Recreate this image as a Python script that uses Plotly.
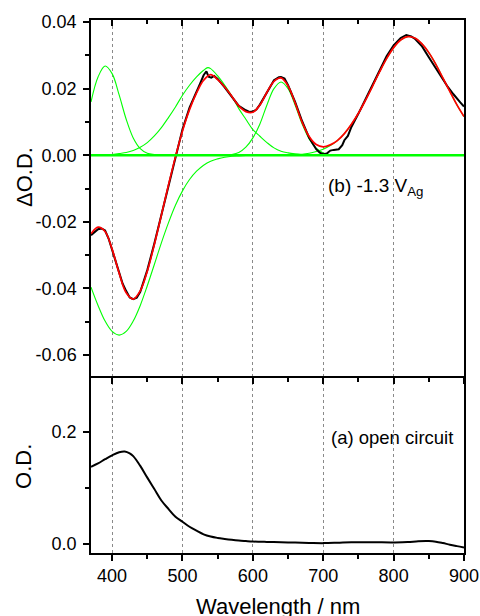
import plotly.graph_objects as go

# ---------------- data ----------------
wl = list(range(370, 901, 10))

fit_red = [-0.0236, -0.0216, -0.0229, -0.0282, -0.0354, -0.0413, -0.0432, -0.0407,
           -0.0348, -0.0268, -0.0180, -0.0090, -0.0005, 0.0073, 0.0137, 0.0187,
           0.0225, 0.0242, 0.0227, 0.0205, 0.0177, 0.0148, 0.0131, 0.0129,
           0.0151, 0.0189, 0.0222, 0.0232, 0.0208, 0.0157, 0.0099, 0.0056,
           0.0032, 0.0025, 0.0031, 0.0044, 0.0065, 0.0093, 0.0126, 0.0165,
           0.0207, 0.0250, 0.0290, 0.0323, 0.0346, 0.0356, 0.0352, 0.0335,
           0.0308, 0.0273, 0.0232, 0.0191, 0.0151, 0.0116]

meas_wl = [370, 375, 380, 385, 390, 395, 400, 405, 410, 415, 420, 425, 430, 435, 440,
           445, 450, 460, 470, 480, 490, 500, 510, 520, 525, 530, 534, 537, 541, 545,
           550, 560, 570, 580, 590, 595, 600, 605, 610, 620, 630, 637, 640, 645, 650,
           660, 670, 680, 685, 690, 695, 700, 705, 710, 715, 722, 727, 730, 735, 740,
           750, 760, 770, 780, 790, 800, 810, 818, 825, 830, 840, 850, 860, 870, 877,
           885, 890, 895, 900]
meas_dod = [-0.0240, -0.0232, -0.0222, -0.0220, -0.0226, -0.0250, -0.0283, -0.0318,
            -0.0350, -0.0386, -0.0408, -0.0427, -0.0432, -0.0428, -0.0410, -0.0380,
            -0.0345, -0.0265, -0.0178, -0.0088, -0.0003, 0.0078, 0.0143, 0.0195,
            0.0215, 0.0240, 0.0252, 0.0236, 0.0233, 0.0238, 0.0229, 0.0204, 0.0176,
            0.0148, 0.0135, 0.0130, 0.0131, 0.0137, 0.0152, 0.0190, 0.0225, 0.0234,
            0.0235, 0.0230, 0.0210, 0.0160, 0.0102, 0.0052, 0.0034, 0.0018, 0.0008,
            0.0003, 0.0005, 0.0014, 0.0016, 0.0018, 0.0030, 0.0045, 0.0058, 0.0085,
            0.0125, 0.0168, 0.0212, 0.0256, 0.0297, 0.0330, 0.0352, 0.0361, 0.0357,
            0.0350, 0.0328, 0.0294, 0.0262, 0.0226, 0.0205, 0.0183, 0.0172, 0.0158,
            0.0146]

# Gaussian components (green)
g1_wl = [370, 380, 390, 400, 410, 420, 430, 440, 450, 460, 470]
g1 = [0.0160, 0.0235, 0.0268, 0.0245, 0.0181, 0.0108, 0.0052, 0.0020, 0.0006, 0.0002, 0.0]

g2_wl = [400, 410, 420, 430, 440, 450, 460, 470, 480, 490, 500, 510, 520, 530, 536,
         540, 550, 560, 570, 580, 590, 600, 610, 620, 630, 640, 650, 660, 670, 680, 690]
g2 = [0.0002, 0.0005, 0.0008, 0.0014, 0.0024, 0.0038, 0.0058, 0.0083, 0.0113, 0.0145,
      0.0180, 0.0210, 0.0235, 0.0255, 0.0263, 0.0260, 0.0238, 0.0210, 0.0178, 0.0140,
      0.0108, 0.0077, 0.0057, 0.0038, 0.0022, 0.0012, 0.0007, 0.0004, 0.0002, 0.0001, 0.0]

g3_wl = [560, 570, 580, 590, 600, 610, 620, 630, 640, 650, 660, 670, 680, 690, 700, 710, 720]
g3 = [0.0, 0.0002, 0.0008, 0.0024, 0.0052, 0.0094, 0.0151, 0.0200, 0.0220, 0.0200,
      0.0151, 0.0094, 0.0049, 0.0021, 0.0007, 0.0002, 0.0]

g4_wl = [370, 380, 390, 400, 410, 420, 430, 440, 450, 460, 470, 480, 490, 500, 510,
         520, 530, 540, 550, 560, 570, 580, 590, 600]
g4 = [-0.0396, -0.0451, -0.0498, -0.0529, -0.0540, -0.0529, -0.0498, -0.0451, -0.0392,
      -0.0328, -0.0263, -0.0203, -0.0150, -0.0107, -0.0073, -0.0048, -0.0030, -0.0018,
      -0.0011, -0.0006, -0.0003, -0.0002, -0.0001, 0.0]

g5_wl = [640, 650, 660, 670, 680, 690, 700, 710, 720, 730, 740, 750, 760, 770, 780,
         790, 800, 810, 820, 830, 840, 850, 860, 870, 880, 890, 900]
g5 = [0.0, 0.0001, 0.0002, 0.0003, 0.0006, 0.0011, 0.0018, 0.0029, 0.0044, 0.0065,
      0.0093, 0.0126, 0.0165, 0.0207, 0.0250, 0.0290, 0.0323, 0.0346, 0.0356, 0.0352,
      0.0335, 0.0308, 0.0273, 0.0232, 0.0191, 0.0151, 0.0116]

base_wl = [370, 900]
base = [0.0, 0.0]

# open-circuit absorbance (bottom panel)
od_wl = [370, 380, 390, 400, 410, 418, 425, 430, 440, 450, 460, 470, 480, 490, 500,
         510, 520, 530, 540, 550, 560, 570, 580, 590, 600, 620, 640, 660, 680, 700,
         720, 740, 760, 780, 800, 820, 835, 850, 860, 870, 880, 890, 900]
od = [0.1375, 0.1435, 0.1510, 0.1580, 0.1635, 0.1648, 0.1615, 0.1565, 0.1390, 0.1180,
      0.0975, 0.0770, 0.0620, 0.0480, 0.0390, 0.0300, 0.0230, 0.0165, 0.0125, 0.0100,
      0.0082, 0.0066, 0.0053, 0.0044, 0.0036, 0.0028, 0.0022, 0.0017, 0.0011, 0.0007,
      0.0014, 0.0024, 0.0024, 0.0021, 0.0020, 0.0025, 0.0040, 0.0043, 0.0033, 0.0008,
      -0.0022, -0.0047, -0.0070]

x_ticks = [400, 500, 600, 700, 800, 900]
top_y_ticks = [-0.06, -0.04, -0.02, 0.0, 0.02, 0.04]
top_y_labels = ["-0.06", "-0.04", "-0.02", "0.00", "0.02", "0.04"]
bot_y_ticks = [0.0, 0.2]
bot_y_labels = ["0.0", "0.2"]

# ---------------- figure ----------------
GREEN = "#00ff00"
FONT = "Liberation Sans, Arial, sans-serif"

fig = go.Figure()

for wx, wy in [(g1_wl, g1), (g2_wl, g2), (g3_wl, g3), (g4_wl, g4), (g5_wl, g5)]:
    fig.add_trace(go.Scatter(x=wx, y=wy, mode="lines", xaxis="x2", yaxis="y2",
                             line=dict(color=GREEN, width=1.1, shape="spline"),
                             showlegend=False, hoverinfo="skip"))

fig.add_trace(go.Scatter(x=base_wl, y=base, mode="lines", xaxis="x3", yaxis="y2",
                         line=dict(color=GREEN, width=2.5), showlegend=False))

fig.add_trace(go.Scatter(x=meas_wl, y=meas_dod, mode="lines", xaxis="x2", yaxis="y2",
                         line=dict(color="black", width=2), showlegend=False))
fig.add_trace(go.Scatter(x=wl, y=fit_red, mode="lines", xaxis="x2", yaxis="y2",
                         line=dict(color="red", width=1.7, shape="spline"),
                         showlegend=False))

fig.add_trace(go.Scatter(x=od_wl, y=od, mode="lines", xaxis="x", yaxis="y",
                         line=dict(color="black", width=2, shape="spline"),
                         showlegend=False))

tickfont = dict(family=FONT, size=18, color="black")
minor_x = dict(dtick=50, tick0=0, ticks="outside", ticklen=4, tickwidth=1.5,
               tickcolor="black", showgrid=False)
common_x = dict(range=[370, 900], tickvals=x_ticks, showline=True, linecolor="black",
                linewidth=1.5, showgrid=True, gridcolor="#8a8a8a",
                griddash="dot", gridwidth=1, zeroline=False, ticks="outside",
                ticklen=6, tickwidth=1.5, tickcolor="black", tickfont=tickfont,
                automargin=False, minor=minor_x)

SPLIT = 0.332

fig.update_layout(
    width=480, height=616,
    margin=dict(l=91, r=16, t=20, b=63, autoexpand=False),
    paper_bgcolor="white", plot_bgcolor="white",
    font=dict(family=FONT, size=18, color="black"),
    xaxis=dict(common_x, anchor="y", domain=[0, 1], mirror=False),
    xaxis2=dict(common_x, anchor="y2", domain=[0, 1], matches="x", mirror=True,
                showticklabels=False),
    xaxis3=dict(range=[370, 900], overlaying="x2", anchor="y2", side="top",
                tickvals=x_ticks, showticklabels=False, showline=False,
                showgrid=False, zeroline=False, ticks="inside", ticklen=6,
                tickwidth=1.5, tickcolor="black", automargin=False,
                minor=dict(dtick=50, tick0=0, ticks="inside", ticklen=4,
                           tickwidth=1.5, tickcolor="black", showgrid=False)),
    yaxis=dict(domain=[0, SPLIT], range=[-0.017, 0.3], tickvals=bot_y_ticks,
               ticktext=bot_y_labels, showline=True, linecolor="black",
               linewidth=1.5, mirror=True, showgrid=False, zeroline=False,
               ticks="outside", ticklen=6, tickwidth=1.5, tickcolor="black",
               tickfont=tickfont, ticklabelstandoff=3, automargin=False,
               minor=dict(tickvals=[0.1], ticks="outside", ticklen=4,
                          tickwidth=1.5, tickcolor="black", showgrid=False)),
    yaxis2=dict(domain=[SPLIT, 1], range=[-0.0663, 0.0406], tickvals=top_y_ticks,
                ticktext=top_y_labels, showline=True, linecolor="black",
                linewidth=1.5, mirror=True, showgrid=False, zeroline=False,
                ticks="outside", ticklen=6, tickwidth=1.5, tickcolor="black",
                tickfont=tickfont, ticklabelstandoff=3, automargin=False,
                minor=dict(dtick=0.01, tick0=0, ticks="outside", ticklen=4,
                           tickwidth=1.5, tickcolor="black", showgrid=False)),
    annotations=[
        dict(text="ΔO.D.", xref="paper", yref="paper", x=0, y=0.7054, xshift=-67,
             textangle=-90, showarrow=False, xanchor="center", yanchor="middle",
             font=dict(family=FONT, size=22, color="black")),
        dict(text="O.D.", xref="paper", yref="paper", x=0, y=0.1614, xshift=-67,
             textangle=-90, showarrow=False, xanchor="center", yanchor="middle",
             font=dict(family=FONT, size=22, color="black")),
        dict(text="Wavelength / nm", xref="paper", yref="paper", x=0.5, y=0,
             yshift=-39, showarrow=False, xanchor="center", yanchor="top",
             font=dict(family=FONT, size=22, color="black")),
        dict(text="(b) -1.3 V<sub>Ag</sub>", xref="x2", yref="y2", x=703.5,
             y=-0.0094, showarrow=False, xanchor="left", yanchor="middle",
             font=dict(family=FONT, size=19, color="black")),
        dict(text="(a) open circuit", xref="x", yref="y", x=707.7, y=0.1905,
             showarrow=False, xanchor="left", yanchor="middle",
             font=dict(family=FONT, size=18.5, color="black")),
    ],
)

fig.write_html("out.html",
               config={"displayModeBar": False},
               post_script="document.body.style.margin='0px';"
                           "document.body.style.overflow='hidden';")
